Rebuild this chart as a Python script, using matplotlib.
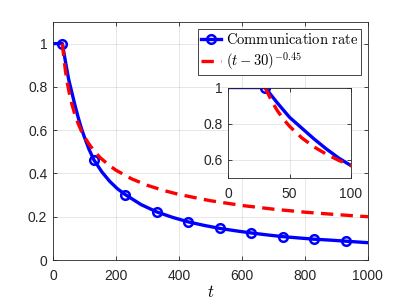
import matplotlib
matplotlib.use("Agg")
import matplotlib.pyplot as plt

# ---- data ----
t_rate = [1, 30, 40, 50, 60, 70, 80, 90, 100, 115, 130, 155, 180, 205, 230, 280,
          330, 380, 430, 480, 530, 580, 630, 680, 730, 780, 830, 880, 930, 1000]
rate = [1.0, 1.0, 0.915, 0.835, 0.775, 0.715, 0.66, 0.61, 0.568, 0.51, 0.463, 0.408,
        0.364, 0.329, 0.302, 0.256, 0.222, 0.197, 0.176, 0.160, 0.146, 0.135, 0.125,
        0.116, 0.108, 0.102, 0.096, 0.092, 0.087, 0.080]
marker_t = [30, 130, 230, 330, 430, 530, 630, 730, 830, 930]

t_fit = [30, 35, 40, 45, 50, 60, 70, 80, 90, 100, 115, 130, 150, 175, 200, 250, 300,
         350, 400, 500, 600, 700, 800, 900, 1000]
fit = [1.0, 0.93, 0.872, 0.825, 0.785, 0.721, 0.671, 0.631, 0.597, 0.569, 0.535,
       0.505, 0.473, 0.442, 0.415, 0.375, 0.345, 0.322, 0.303, 0.274, 0.252, 0.235,
       0.221, 0.210, 0.200]

main_xticks = [0, 200, 400, 600, 800, 1000]
main_yticks = [0, 0.2, 0.4, 0.6, 0.8, 1]
inset_xticks = [0, 50, 100]
inset_yticks = [0.6, 0.8, 1]

legend_labels = [r'$\mathrm{Communication\ rate}$', r'$(t-30)^{-0.45}$']

plt.rcParams['mathtext.fontset'] = 'cm'
plt.rcParams['font.family'] = ['Liberation Sans', 'DejaVu Sans']

axcol = '#262626'
mk_idx = [t_rate.index(v) for v in marker_t]
dash = (0, (3.7, 2.2))


def style(ax, xt, yt):
    ax.set_xticks(xt)
    ax.set_yticks(yt)
    ax.set_xticklabels([f'{v:g}' for v in xt])
    ax.set_yticklabels([f'{v:g}' for v in yt])
    ax.tick_params(direction='in', top=True, right=True, colors=axcol,
                   labelsize=10, length=3, width=0.6)
    ax.tick_params(axis='x', pad=6.5)
    ax.tick_params(axis='y', pad=4)
    for s in ax.spines.values():
        s.set_color(axcol)
        s.set_linewidth(0.6)
    ax.grid(True, color='#262626', alpha=0.13, linewidth=0.6)
    ax.set_axisbelow(True)


fig = plt.figure(figsize=(4.07, 3.05), dpi=100)
ax = fig.add_axes([0.130, 0.1475, 0.774, 0.7805])
ax.plot(t_rate, rate, color='blue', lw=2.4, marker='o', markevery=mk_idx,
        markersize=6.2, markerfacecolor='none', markeredgewidth=1.8,
        label=legend_labels[0])
ax.plot(t_fit, fit, color='red', lw=2.4, ls=dash, label=legend_labels[1])
ax.set_xlim(0, 1000)
ax.set_ylim(0, 1.1)
style(ax, main_xticks, main_yticks)
ax.set_xlabel('$t$', fontsize=12, labelpad=1)
leg = ax.legend(loc='upper right', fontsize=10.5, handlelength=1.4, handletextpad=0.3,
                borderpad=0.2, labelspacing=0.2, borderaxespad=0.5, fancybox=False,
                framealpha=1, edgecolor=axcol)
leg.get_frame().set_linewidth(0.6)

ins = fig.add_axes([0.561, 0.417, 0.301, 0.296])
ins.plot(t_rate, rate, color='blue', lw=2.4, marker='o', markevery=[1],
         markersize=6.2, markerfacecolor='none', markeredgewidth=1.8)
ins.plot(t_fit, fit, color='red', lw=2.4, ls=dash)
ins.set_xlim(0, 100)
ins.set_ylim(0.5, 1)
style(ins, inset_xticks, inset_yticks)

fig.savefig('out.png', dpi=100)
